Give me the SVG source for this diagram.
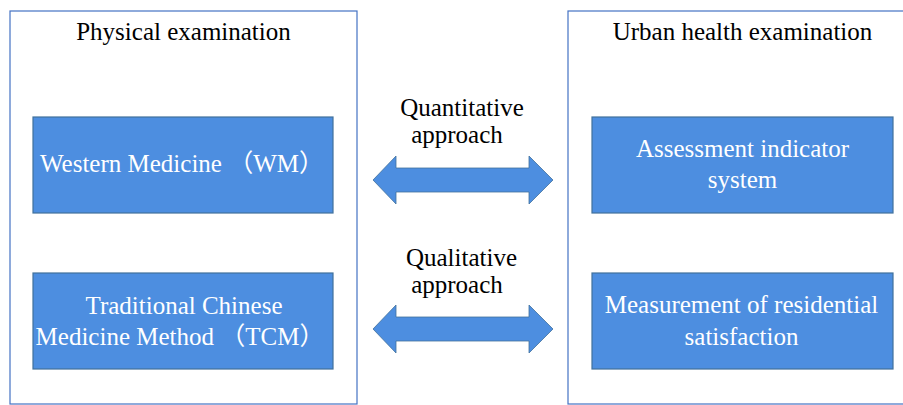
<svg xmlns="http://www.w3.org/2000/svg" width="903" height="405" viewBox="0 0 903 405">
  <defs>
    <style>
      .frame { fill: #ffffff; stroke: #4472c4; stroke-width: 1.2; }
      .box { fill: #4d8ee0; stroke: #41719c; stroke-width: 1.2; }
      .arrow { fill: #4d8ee0; stroke: #41719c; stroke-width: 0.8; }
      text { font-family: "Liberation Serif", "Noto Sans CJK SC", serif; font-size: 25px; text-anchor: middle; }
      .dark { fill: #000000; }
      .light { fill: #ffffff; }
    </style>
  </defs>
  <rect width="903" height="405" fill="#ffffff"/>

  <!-- left column -->
  <g id="physical-examination">
    <rect class="frame" x="10" y="11" width="347" height="393"/>
    <text class="dark" x="183.5" y="40">Physical examination</text>
  </g>
  <g id="western-medicine">
    <rect class="box" x="33" y="117" width="300" height="96"/>
    <text class="light" x="182" y="172">Western Medicine  （WM）</text>
  </g>
  <g id="tcm">
    <rect class="box" x="33" y="273" width="300" height="96"/>
    <text class="light" x="184" y="314">Traditional Chinese</text>
    <text class="light" x="180" y="345">Medicine  Method （TCM）</text>
  </g>

  <!-- right column -->
  <g id="urban-health-examination">
    <rect class="frame" x="568" y="11" width="340" height="393"/>
    <text class="dark" x="742.5" y="40">Urban health examination</text>
  </g>
  <g id="assessment-indicator-system">
    <rect class="box" x="592" y="117" width="301" height="96"/>
    <text class="light" x="742.5" y="157">Assessment indicator</text>
    <text class="light" x="742.5" y="188">system</text>
  </g>
  <g id="residential-satisfaction">
    <rect class="box" x="592" y="273" width="301" height="96"/>
    <text class="light" x="741.5" y="313">Measurement of residential</text>
    <text class="light" x="741.5" y="345">satisfaction</text>
  </g>

  <!-- two-way connectors -->
  <g id="connectors">
    <g id="quantitative">
      <path class="arrow" d="M373,180 L396,156 L396,168 L529,168 L529,156 L553,180 L529,204 L529,192 L396,192 L396,204 Z"/>
      <text class="dark" x="462" y="116">Quantitative</text>
      <text class="dark" x="457" y="143">approach</text>
    </g>
    <g id="qualitative">
      <path class="arrow" d="M373,329 L396,305 L396,317 L529,317 L529,305 L553,329 L529,353 L529,341 L396,341 L396,353 Z"/>
      <text class="dark" x="461.5" y="266">Qualitative</text>
      <text class="dark" x="457" y="293">approach</text>
    </g>
  </g>
</svg>
